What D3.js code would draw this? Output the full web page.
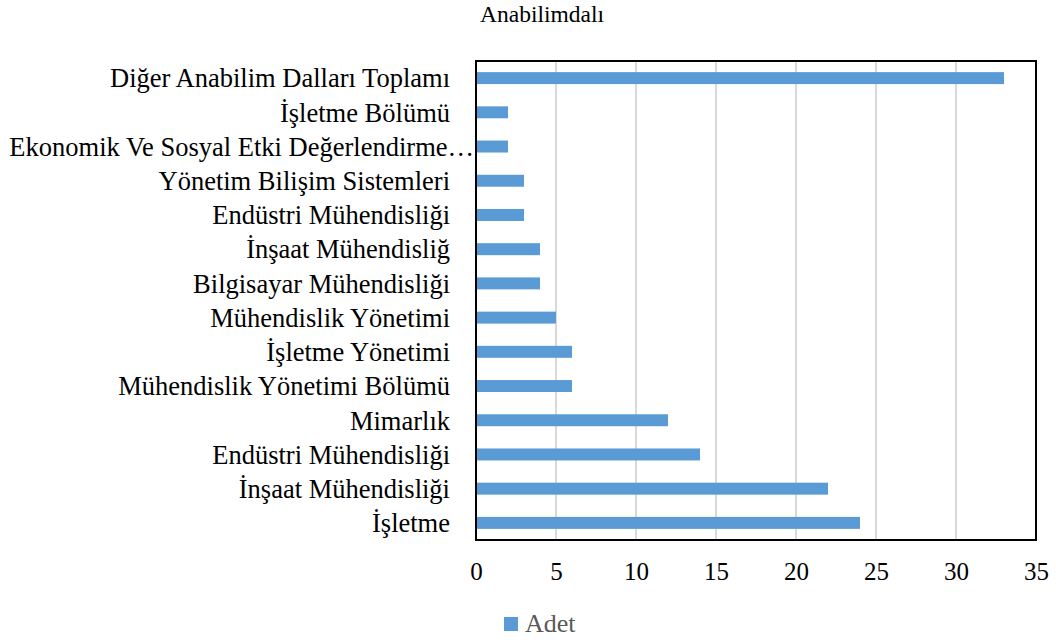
<!DOCTYPE html>
<html>
<head>
<meta charset="utf-8">
<script src="https://cdn.jsdelivr.net/npm/d3@7"></script>
<style>
  body { margin: 0; background: #fff; }
</style>
</head>
<body>
<svg id="chart"></svg>
<script>
var categories = [
  "Diğer Anabilim Dalları Toplamı",
  "İşletme Bölümü",
  "Ekonomik Ve Sosyal Etki Değerlendirme…",
  "Yönetim Bilişim Sistemleri",
  "Endüstri Mühendisliği",
  "İnşaat Mühendisliğ",
  "Bilgisayar Mühendisliği",
  "Mühendislik Yönetimi",
  "İşletme Yönetimi",
  "Mühendislik Yönetimi Bölümü",
  "Mimarlık",
  "Endüstri Mühendisliği",
  "İnşaat Mühendisliği",
  "İşletme"
];
var values = [33, 2, 2, 3, 3, 4, 4, 5, 6, 6, 12, 14, 22, 24];
var xTicks = [0, 5, 10, 15, 20, 25, 30, 35];
var title = "Anabilimdalı";
var seriesName = "Adet";

var width = 1056, height = 642;
var margin = { top: 61, right: 20, bottom: 102, left: 476 };
var serif = "'Liberation Serif', 'Times New Roman', serif";

var svg = d3.select("#chart").attr("width", width).attr("height", height);

var x = d3.scaleLinear().domain([0, 35]).range([margin.left, 1036]);
var y = d3.scaleBand()
  .domain(d3.range(categories.length))
  .range([margin.top, height - margin.bottom])
  .paddingInner(0.65)
  .paddingOuter(0.325);

// gridlines
svg.append("g")
  .selectAll("line")
  .data(xTicks.slice(1, -1))
  .enter()
  .append("line")
  .attr("x1", function(d) { return x(d); })
  .attr("x2", function(d) { return x(d); })
  .attr("y1", margin.top)
  .attr("y2", height - margin.bottom)
  .attr("stroke", "#d9d9d9")
  .attr("stroke-width", 2);

// bars
svg.append("g")
  .selectAll("rect")
  .data(values)
  .enter()
  .append("rect")
  .attr("x", x(0))
  .attr("y", function(d, i) { return y(i); })
  .attr("width", function(d) { return x(d) - x(0); })
  .attr("height", y.bandwidth())
  .attr("fill", "#5b9bd5");

// frame
svg.append("rect")
  .attr("x", x(0))
  .attr("y", margin.top)
  .attr("width", x(35) - x(0))
  .attr("height", height - margin.bottom - margin.top)
  .attr("fill", "none")
  .attr("stroke", "#000")
  .attr("stroke-width", 2);

// x tick labels
var xAxis = svg.append("g")
  .attr("transform", "translate(0," + (height - margin.bottom) + ")")
  .call(d3.axisBottom(x).tickValues(xTicks).tickSize(0).tickPadding(22));
xAxis.select(".domain").remove();
xAxis.selectAll("text")
  .style("font-family", serif)
  .style("font-size", "25px")
  .attr("fill", "#000");

// category labels
svg.append("g")
  .selectAll("text")
  .data(categories)
  .enter()
  .append("text")
  .attr("x", function(d, i) { return i === 2 ? 474 : 450; })
  .attr("y", function(d, i) { return y(i) + y.bandwidth() / 2; })
  .attr("dy", "0.35em")
  .attr("text-anchor", "end")
  .style("font-family", serif)
  .style("font-size", "26.5px")
  .attr("fill", "#000")
  .text(function(d) { return d; });

// title
svg.append("text")
  .attr("x", 542)
  .attr("y", 22)
  .attr("text-anchor", "middle")
  .style("font-family", serif)
  .style("font-size", "23.5px")
  .attr("fill", "#000")
  .text(title);

// legend
var legend = svg.append("g").attr("transform", "translate(504,632)");
legend.append("rect")
  .attr("x", 0).attr("y", -15)
  .attr("width", 14).attr("height", 14)
  .attr("fill", "#5b9bd5");
legend.append("text")
  .attr("x", 21).attr("y", 0)
  .style("font-family", serif)
  .style("font-size", "26px")
  .attr("fill", "#595959")
  .text(seriesName);
</script>
</body>
</html>
